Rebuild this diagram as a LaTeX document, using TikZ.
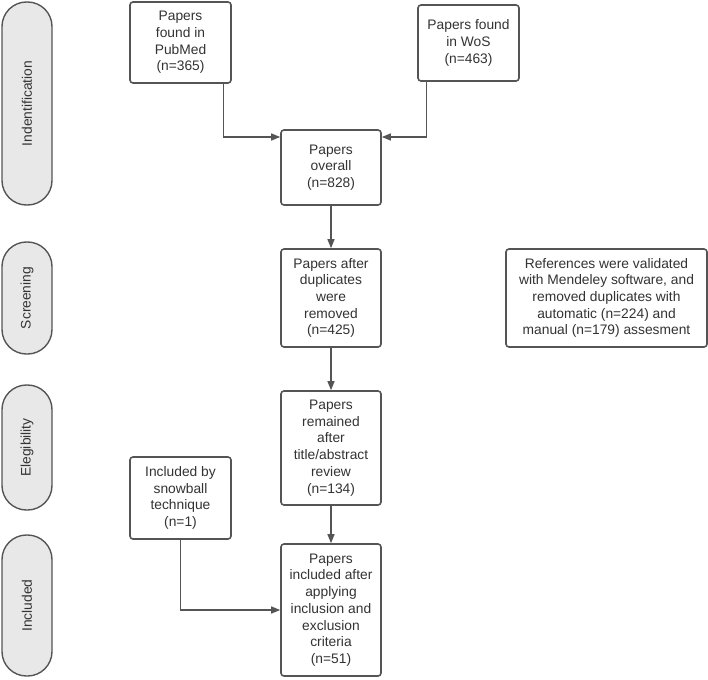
\documentclass[tikz,border=0pt]{standalone}
\usepackage{fontspec}
\setmainfont{Liberation Sans}
\usetikzlibrary{arrows.meta}
\definecolor{linegray}{HTML}{555555}
\definecolor{txtgray}{HTML}{333333}
\definecolor{pillfill}{HTML}{E8E8E8}
\begin{document}
\begin{tikzpicture}[x=1pt,y=1pt,
  every node/.style={font=\fontsize{13.8}{16.7}\selectfont, text=txtgray},
  flowbox/.style={draw=linegray, line width=1.6pt, rounded corners=3pt, fill=white, align=center, inner sep=0pt},
  pill/.style={draw=linegray, line width=1.4pt, rounded corners=24.5pt, fill=pillfill, minimum width=50pt, inner sep=0pt},
  conn/.style={draw=linegray, line width=1.3pt, -{Triangle[length=9pt,width=7pt]}}
]
\useasboundingbox (0,0) rectangle (708,-679);
% phase pills
\node[pill, minimum height=203pt] (p1) at (27,-103.5) {\rotatebox{90}{Indentification}};
\node[pill, minimum height=112pt] (p2) at (27,-298) {\rotatebox{90}{Screening}};
\node[pill, minimum height=125pt] (p3) at (27,-447.5) {\rotatebox{90}{Elegibility}};
\node[pill, minimum height=141pt] (p4) at (27,-605.5) {\rotatebox{90}{Included}};
% boxes
\node[flowbox, minimum width=101pt, minimum height=81pt] (pubmed) at (180.5,-42.5) {Papers\\found in\\PubMed\\(n=365)};
\node[flowbox, minimum width=101pt, minimum height=76pt] (wos) at (468.5,-43) {Papers found\\in WoS\\(n=463)};
\node[flowbox, minimum width=100pt, minimum height=75pt] (overall) at (331,-167.5) {Papers\\overall\\(n=828)};
\node[flowbox, minimum width=100pt, minimum height=98pt] (screen) at (331,-298) {Papers after\\duplicates\\were\\removed\\(n=425)};
\node[flowbox, minimum width=100pt, minimum height=114pt] (elig) at (331,-448) {Papers\\remained\\after\\title/abstract\\review\\(n=134)};
\node[flowbox, minimum width=100pt, minimum height=132pt] (incl) at (331,-610) {Papers\\included after\\applying\\inclusion and\\exclusion\\criteria\\(n=51)};
\node[flowbox, minimum width=101pt, minimum height=82pt] (snow) at (180.5,-498) {Included by\\snowball\\technique\\(n=1)};
\node[flowbox, minimum width=201pt, minimum height=98pt] (refs) at (606.5,-298) {References were validated\\with Mendeley software, and\\removed duplicates with\\automatic (n=224) and\\manual (n=179) assesment};
% connectors
\coordinate (pmout) at ([xshift=-8pt]pubmed.south east);
\coordinate (wsout) at ([xshift=9pt]wos.south west);
\draw[conn] (pmout) |- ([yshift=30.5pt]overall.west);
\draw[conn] (wsout) |- ([yshift=30.5pt]overall.east);
\draw[conn] (overall) -- (screen);
\draw[conn] (screen) -- (elig);
\draw[conn] (elig) -- (incl);
\draw[conn] (snow.south) |- (incl.west);
\end{tikzpicture}
\end{document}
